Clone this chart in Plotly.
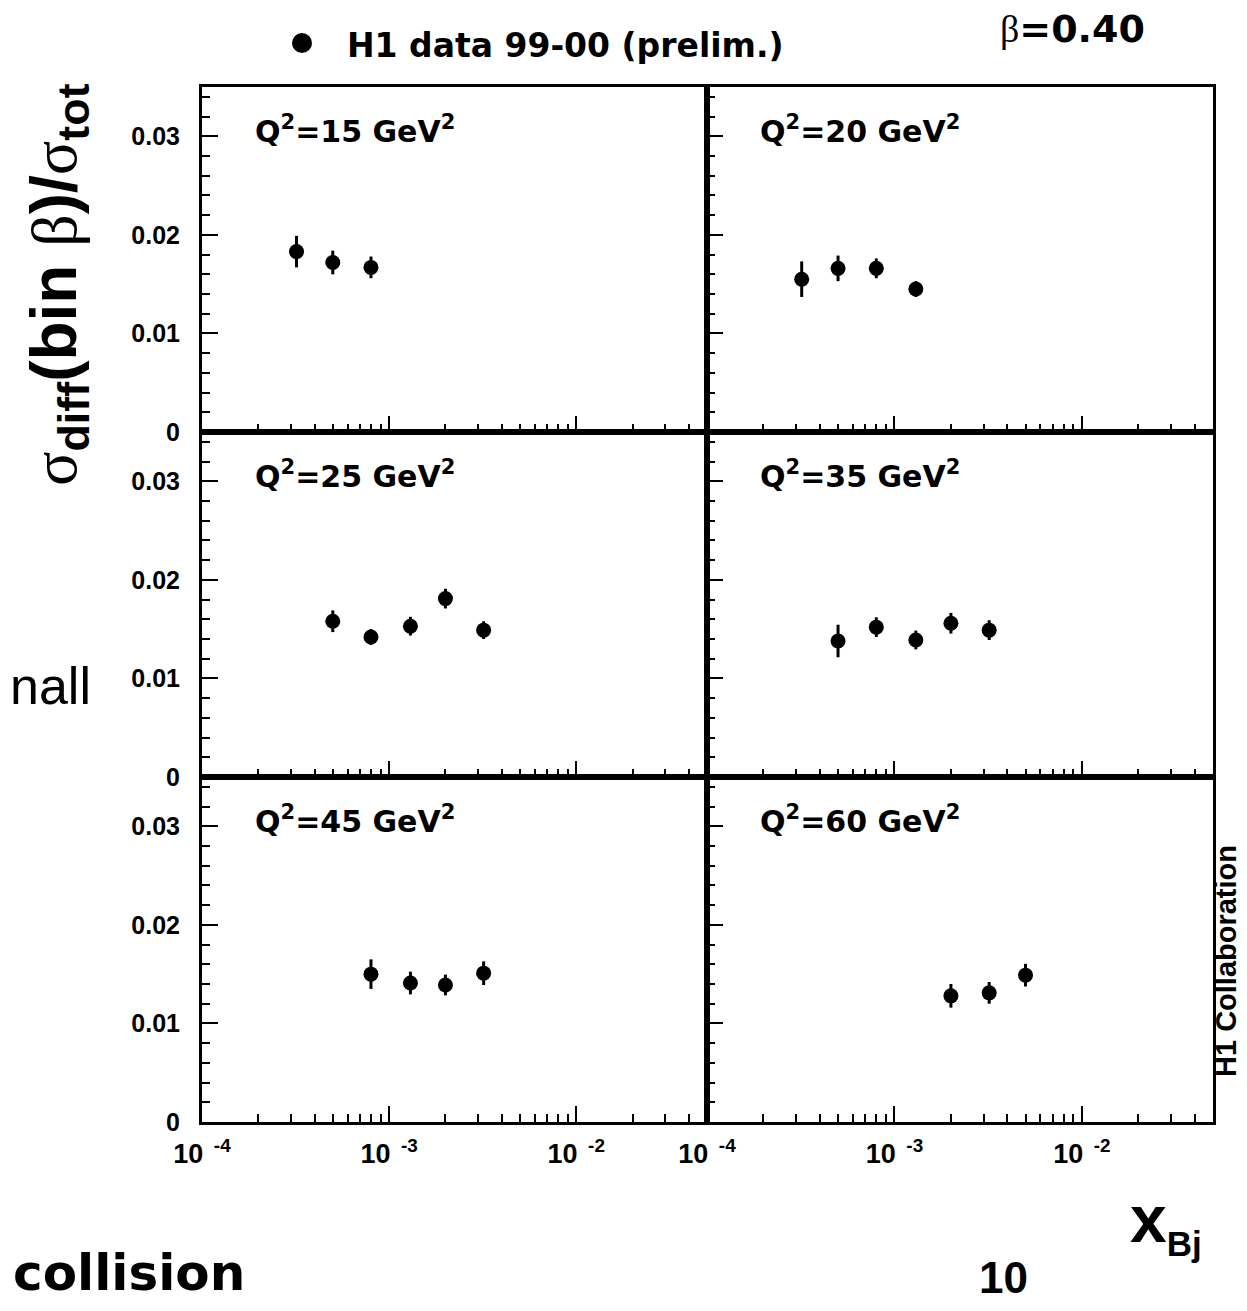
import math
import plotly.graph_objects as go

PAGE_W, PAGE_H = 1247, 1311
OFF = 8                      # the page body adds an 8 px margin
W, H = PAGE_W - OFF, PAGE_H - 2 * OFF   # keep the page free of scrollbars

# ---------------- data ----------------
q2_values = ["15", "20", "25", "35", "45", "60"]

x_q15 = [3.2e-4, 5.0e-4, 8.0e-4]
y_q15 = [0.0183, 0.0172, 0.0167]
e_q15 = [0.0016, 0.0012, 0.0011]

x_q20 = [3.2e-4, 5.0e-4, 8.0e-4, 1.3e-3]
y_q20 = [0.0155, 0.0166, 0.0166, 0.0145]
e_q20 = [0.0018, 0.0013, 0.0010, 0.0008]

x_q25 = [5.0e-4, 8.0e-4, 1.3e-3, 2.0e-3, 3.2e-3]
y_q25 = [0.0158, 0.0142, 0.0153, 0.0181, 0.0149]
e_q25 = [0.0011, 0.0008, 0.00095, 0.0010, 0.0009]

x_q35 = [5.0e-4, 8.0e-4, 1.3e-3, 2.0e-3, 3.2e-3]
y_q35 = [0.0138, 0.0152, 0.0139, 0.0156, 0.0149]
e_q35 = [0.00165, 0.0010, 0.00095, 0.00105, 0.0010]

x_q45 = [8.0e-4, 1.3e-3, 2.0e-3, 3.2e-3]
y_q45 = [0.0150, 0.0141, 0.0139, 0.0151]
e_q45 = [0.0015, 0.00115, 0.00105, 0.0012]

x_q60 = [2.0e-3, 3.2e-3, 5.0e-3]
y_q60 = [0.0128, 0.0131, 0.0149]
e_q60 = [0.0012, 0.0011, 0.00115]

x_major_ticks = [1e-4, 1e-3, 1e-2]
x_major_labels = ["10<sup>  -4</sup>", "10<sup>  -3</sup>", "10<sup>  -2</sup>"]
y_major_ticks = [0, 0.01, 0.02, 0.03]
y_major_labels = ["0", "0.01", "0.02", "0.03"]
x_range = [1e-4, 0.05]
y_range = [0, 0.035]

legend_label = "H1 data 99-00 (prelim.)"
beta_label = "=0.40"

# ---------------- figure ----------------
panels = [
    (x_q15, y_q15, e_q15), (x_q20, y_q20, e_q20),
    (x_q25, y_q25, e_q25), (x_q35, y_q35, e_q35),
    (x_q45, y_q45, e_q45), (x_q60, y_q60, e_q60),
]

def px(x):
    return (x - OFF) / W

def py(y):
    return 1 - (y - OFF) / H

col_edges = [(202, 707), (707, 1213)]
row_edges = [(87, 432), (432, 777), (777, 1122)]

minor_x = [m * d for d in (1e-4, 1e-3) for m in range(2, 10)] + [m * 1e-2 for m in (2, 3, 4)]

TICKFONT = dict(family="Liberation Sans", size=25, color="black", weight="bold")
BOLD = "Liberation Sans"
WIDE = "DejaVu Sans"
SERIF = "Liberation Serif"

fig = go.Figure()
layout = dict(
    width=W, height=H,
    margin=dict(l=0, r=0, t=0, b=0, pad=0, autoexpand=False),
    paper_bgcolor="white", plot_bgcolor="white",
    showlegend=False,
    font=dict(family=BOLD, color="black"),
    annotations=[], shapes=[],
)

for i, (xs, ys, es) in enumerate(panels):
    r, c = divmod(i, 2)
    k = "" if i == 0 else str(i + 1)
    fig.add_trace(go.Scatter(
        x=xs, y=ys, mode="markers",
        marker=dict(size=15, color="black", symbol="circle"),
        error_y=dict(type="data", array=es, visible=True, thickness=3, width=0, color="black"),
        xaxis="x" + k, yaxis="y" + k, name=legend_label,
    ))
    x0, x1 = col_edges[c]
    y0, y1 = row_edges[r]
    layout["xaxis" + k] = dict(
        type="log", range=[math.log10(x_range[0]), math.log10(x_range[1])],
        domain=[px(x0), px(x1)], anchor="y" + k, automargin=False,
        tickvals=x_major_ticks, ticktext=x_major_labels,
        showticklabels=(r == 2), tickfont=dict(TICKFONT, size=27),
        ticks="inside", ticklen=16, tickwidth=2, tickcolor="black",
        minor=dict(tickvals=minor_x, ticks="inside", ticklen=8, tickwidth=2,
                   tickcolor="black", showgrid=False),
        showline=True, mirror=True, linewidth=3, linecolor="black",
        showgrid=False, zeroline=False, ticklabelstandoff=6,
    )
    layout["yaxis" + k] = dict(
        range=y_range, domain=[py(y1), py(y0)], anchor="x" + k, automargin=False,
        tickvals=y_major_ticks, ticktext=y_major_labels,
        showticklabels=(c == 0), tickfont=TICKFONT,
        ticks="inside", ticklen=16, tickwidth=2, tickcolor="black",
        minor=dict(dtick=0.002, ticks="inside", ticklen=8, tickwidth=2,
                   tickcolor="black", showgrid=False),
        showline=True, mirror=True, linewidth=3, linecolor="black",
        showgrid=False, zeroline=False, ticklabelstandoff=14,
    )
    layout["annotations"].append(dict(
        xref="x" + k + " domain", yref="y" + k + " domain",
        x=0.1, y=0.878, xanchor="left", yanchor="middle", showarrow=False,
        text="<b>Q<sup>2</sup>=" + q2_values[i] + " GeV<sup>2</sup></b>",
        font=dict(family=WIDE, size=30, color="black"),
    ))

ann = layout["annotations"]
# legend
layout["shapes"].append(dict(type="circle", xref="paper", yref="paper",
                             x0=px(292), x1=px(312), y0=py(53), y1=py(33),
                             fillcolor="black", line=dict(color="black", width=0)))
ann.append(dict(xref="paper", yref="paper", x=px(345), y=py(45), xanchor="left",
                yanchor="middle", showarrow=False, text="<b>" + legend_label + "</b>",
                font=dict(family=WIDE, size=33, color="black")))
# beta
ann.append(dict(xref="paper", yref="paper", x=px(998), y=py(29), xanchor="left",
                yanchor="middle", showarrow=False,
                text='<span style="font-family:' + SERIF + '">β</span><b>' + beta_label + "</b>",
                font=dict(family=WIDE, size=38, color="black")))
# y title
ann.append(dict(xref="paper", yref="paper", x=px(58), y=py(285), xanchor="center",
                yanchor="middle", showarrow=False, textangle=-90,
                text='<span style="font-family:' + SERIF + '">σ</span><b><sub>diff</sub>(bin </b>'
                     '<span style="font-family:' + SERIF + '">β</span><b>)/</b>'
                     '<span style="font-family:' + SERIF + '">σ</span><b><sub>tot</sub></b>',
                font=dict(family=BOLD, size=64, color="black")))
# x title
ann.append(dict(xref="paper", yref="paper", x=px(1128), y=py(1222), xanchor="left",
                yanchor="middle", showarrow=False,
                text="<b>x<sub><span style='font-size:35px'>Bj</span></sub></b>",
                font=dict(family=BOLD, size=66, color="black")))
# H1 Collaboration
ann.append(dict(xref="paper", yref="paper", x=px(1226), y=py(961), xanchor="center",
                yanchor="middle", showarrow=False, textangle=-90,
                text="<b>H1 Collaboration</b>",
                font=dict(family=BOLD, size=29, color="black")))
# slide fragments around the chart
ann.append(dict(xref="paper", yref="paper", x=px(9), y=py(686), xanchor="left",
                yanchor="middle", showarrow=False, text="nall", borderpad=0,
                font=dict(family="Liberation Sans", size=52, color="black")))
ann.append(dict(xref="paper", yref="paper", x=px(12), y=py(PAGE_H - OFF), xanchor="left",
                yanchor="bottom", showarrow=False, text="<b>collision</b>", borderpad=0,
                font=dict(family=WIDE, size=50, color="black")))
ann.append(dict(xref="paper", yref="paper", x=px(1003), y=py(PAGE_H - OFF), xanchor="center",
                yanchor="bottom", showarrow=False, text="<b>10</b>", borderpad=0,
                font=dict(family=BOLD, size=44, color="black")))

fig.update_layout(**layout)
fig.write_html("out.html")
